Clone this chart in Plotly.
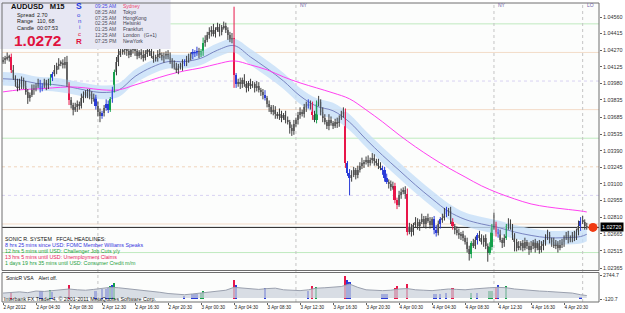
import plotly.graph_objects as go

# ---------------- DATA (prices in pips above 1.02000) ----------------
BASE = 1.02
PIP = 0.0001

first_open = 217
close_pips = [
    218, 220, 221, 221, 210, 203, 199, 194, 197, 201,
    196, 190, 185, 188, 192, 194, 196, 198, 194, 196,
    199, 196, 198, 203, 206, 210, 213, 215, 216, 214,
    217, 197, 183, 179, 175, 177, 180, 178, 185, 188,
    190, 187, 189, 184, 186, 178, 173, 169, 172, 176,
    180, 175, 184, 192, 208, 217, 223, 226, 227, 229,
    226, 223, 227, 230, 226, 222, 225, 223, 220, 224,
    227, 226, 222, 219, 221, 224, 223, 220, 222, 224,
    221, 218, 215, 212, 210, 213, 212, 215, 217, 219,
    220, 223, 225, 224, 226, 223, 226, 233, 236, 240,
    243, 245, 241, 245, 247, 243, 247, 248, 245, 240,
    236, 238, 205, 197, 199, 197, 201, 197, 194, 198,
    196, 197, 194, 196, 192, 190, 188, 185, 180, 177,
    173, 175, 171, 169, 171, 168, 170, 166, 164, 159,
    156, 162, 166, 170, 173, 171, 177, 180, 178, 180,
    170, 166, 180, 182, 173, 168, 164, 161, 166, 163,
    161, 164, 163, 168, 171, 173, 128, 120, 115, 118,
    122, 118, 122, 126, 128, 129, 131, 128, 131, 133,
    130, 128, 126, 124, 122, 115, 112, 110, 107, 108,
    96, 92, 100, 103, 105, 101, 68, 72, 68, 74,
    77, 73, 77, 79, 75, 80, 78, 74, 79, 70,
    67, 75, 79, 80, 84, 87, 86, 77, 73, 70,
    67, 65, 66, 63, 59, 53, 49, 58, 56, 61,
    65, 63, 59, 63, 56, 50, 55, 72, 75, 68,
    66, 61, 58, 63, 73, 75, 72, 65, 59, 54,
    56, 58, 54, 59, 56, 52, 56, 59, 54, 58,
    52, 56, 59, 63, 65, 61, 59, 56, 58, 54,
    57, 59, 63, 65, 61, 63, 65, 63, 68, 73,
    78, 77, 73, 72,
]
wick_up = [
    3, 2, 4, 2, 3, 4, 2, 3, 5, 3, 2, 4, 3, 2, 5, 3, 2, 4, 3, 2,
    3, 2, 4, 3, 2, 4, 3, 5, 2, 3, 4, 5, 2, 3, 2, 4, 3, 2, 4, 3,
    2, 3, 4, 2, 3, 2, 4, 3, 2, 3, 4, 3, 2, 3, 2, 4, 5, 3, 4, 6,
    3, 4, 2, 5, 3, 4, 2, 3, 4, 3, 5, 2, 3, 4, 2, 3, 4, 2, 3, 2,
    3, 4, 2, 3, 4, 2, 3, 4, 2, 3, 4, 2, 3, 2, 4, 3, 2, 5, 4, 3,
    4, 3, 5, 2, 4, 3, 2, 4, 3, 2, 3, 4, 27, 2, 3, 4, 2, 5, 3, 2,
    4, 3, 2, 4, 3, 2, 3, 4, 2, 3, 2, 4, 3, 2, 5, 3, 2, 4, 3, 2,
    3, 4, 2, 3, 4, 2, 3, 2, 4, 3, 2, 4, 3, 5, 2, 4, 3, 2, 5, 3,
    2, 3, 4, 2, 3, 4, 3, 2, 3, 4, 3, 2, 4, 3, 5, 2, 3, 4, 2, 4,
    3, 2, 4, 3, 2, 3, 4, 2, 3, 4, 3, 2, 4, 3, 2, 3, 5, 4, 3, 2,
    4, 3, 2, 5, 3, 2, 4, 3, 2, 3, 4, 3, 2, 4, 5, 3, 2, 4, 3, 2,
    3, 4, 2, 3, 2, 4, 3, 2, 4, 3, 2, 4, 3, 2, 3, 2, 4, 3, 10, 2,
    3, 4, 2, 3, 2, 5, 4, 3, 2, 3, 4, 2, 3, 4, 2, 3, 4, 2, 3, 2,
    3, 4, 2, 3, 5, 3, 2, 4, 3, 2, 4, 3, 2, 3, 4, 2, 3, 4, 3, 5,
    3, 4, 2, 3,
]
wick_dn = [
    2, 3, 2, 4, 3, 2, 4, 3, 2, 4, 3, 2, 5, 3, 2, 4, 3, 2, 4, 3,
    2, 4, 3, 2, 3, 2, 4, 3, 2, 3, 3, 2, 4, 3, 5, 2, 4, 3, 2, 4,
    3, 2, 3, 4, 2, 3, 4, 5, 2, 3, 2, 3, 2, 3, 2, 3, 4, 2, 3, 4,
    4, 3, 2, 3, 4, 3, 2, 4, 3, 2, 3, 4, 2, 3, 2, 4, 3, 2, 4, 3,
    2, 3, 4, 2, 3, 4, 2, 3, 2, 4, 3, 2, 4, 3, 2, 3, 2, 4, 3, 2,
    3, 4, 2, 3, 2, 4, 3, 2, 3, 4, 2, 3, 11, 3, 2, 4, 3, 2, 4, 3,
    3, 2, 4, 3, 2, 3, 4, 2, 3, 4, 2, 3, 4, 2, 3, 4, 2, 3, 2, 5,
    4, 3, 2, 4, 3, 2, 3, 4, 2, 3, 4, 2, 3, 2, 3, 4, 2, 3, 4, 2,
    3, 2, 4, 3, 2, 3, 4, 3, 15, 3, 2, 4, 3, 2, 3, 4, 2, 3, 2, 3,
    4, 2, 3, 2, 4, 3, 2, 4, 3, 2, 3, 4, 2, 3, 2, 4, 3, 2, 4, 3,
    2, 3, 4, 2, 3, 4, 2, 3, 2, 4, 3, 2, 4, 3, 2, 3, 4, 2, 3, 4,
    2, 3, 4, 3, 2, 3, 6, 4, 2, 3, 4, 3, 2, 4, 3, 8, 2, 3, 2, 4,
    3, 2, 4, 3, 2, 3, 2, 4, 8, 3, 2, 4, 3, 2, 3, 4, 2, 3, 4, 2,
    3, 2, 4, 3, 2, 3, 4, 2, 3, 4, 2, 3, 4, 2, 3, 2, 4, 3, 2, 3,
    4, 2, 3, 2,
]

# VSA highlighted bars (index, volume, colour code)
spike_idx = [4, 18, 19, 23, 24, 32, 45, 48, 50, 51, 52, 53, 54, 88, 92, 93, 94, 96, 97,
             112, 113, 127, 148, 150, 152, 166, 167, 168, 184, 185, 186, 190, 191, 196,
             209, 210, 212, 215, 218, 227, 230, 236, 237, 239, 240, 244, 280]
spike_val = [835, 900, 955, 990, 800, 1590, 955, 1100, 1190, 1300, 1500, 1700, 1910, 320, 515, 500, 515, 700, 920,
             2300, 1590, 1310, 900, 1510, 1430, 2744.7, 2300, 2000, 515, 600, 550, 1300, 1510, 1830,
             515, 600, 515, 700, 1310, 715, 715, 900, 955, 1310, 1700, 1510, 200]
spike_col = ['r', 'b', 'b', 'g', 'b', 'r', 'b', 'b', 'b', 'b', 'g', 'b', 'g', 'b', 'b', 'b', 'b', 'g', 'g',
             'r', 'b', 'b', 'b', 'r', 'g', 'r', 'b', 'b', 'b', 'b', 'b', 'r', 'r', 'r',
             'b', 'b', 'b', 'b', 'r', 'g', 'b', 'g', 'g', 'r', 'b', 'g', 'b']

# volume envelope (sampled every 4 bars)
vol_idx = list(range(0, 284, 4)) + [283]
vol_val = [600, 700, 750, 650, 850, 800, 900, 950, 1100, 1000,
           950, 1050, 1150, 1300, 1250, 1150, 1050, 950, 850, 700,
           550, 450, 400, 500, 600, 750, 850, 950, 1300, 1200,
           1100, 1050, 1150, 1200, 1000, 950, 900, 1000, 1200, 1250,
           1300, 1400, 1700, 1300, 1000, 950, 900, 950, 1100, 1150,
           1000, 950, 900, 1000, 1100, 1050, 1000, 1100, 1200, 1250,
           1300, 1250, 1100, 1000, 900, 850, 800, 750, 700, 600,
           400, 300]

# moving averages (sampled every 8 bars)
ema_idx = list(range(0, 284, 8)) + [283]
ema34_mid = [202, 201, 198, 197, 195, 192, 190, 192, 204, 212, 217, 217, 220, 227, 231, 221, 211, 200, 187,
             178, 174, 164, 149, 135, 122, 109, 97, 86, 79, 75, 72, 68, 65, 63, 63, 64, 66]
ema34_hi = [208, 207, 204, 203, 201, 198, 196, 198, 210, 218, 223, 223, 226, 233, 237, 228, 218, 207, 194,
            185, 181, 171, 156, 142, 129, 116, 104, 93, 85, 81, 78, 74, 71, 69, 69, 70, 72]
ema34_lo = [196, 195, 192, 191, 189, 186, 184, 186, 198, 206, 211, 211, 214, 221, 225, 214, 204, 193, 180,
            171, 167, 157, 142, 128, 115, 102, 90, 79, 73, 69, 66, 62, 59, 57, 57, 58, 60]
ema89 = [190.5, 192.3, 193.1, 194, 194.9, 194, 192.3, 192.3, 196.6, 201, 205.4, 208.9, 211.5, 215, 217.6,
         214.1, 209.8, 203.6, 198.4, 194, 189.6, 184.4, 174.8, 164.3, 152.9, 142.4, 132.8, 124, 116.1,
         108.3, 102.1, 96.9, 92.5, 89.9, 88.1, 86.4, 85.5]

price_ticks = [1.04560, 1.04415, 1.04270, 1.04125, 1.03980, 1.03835, 1.03685, 1.03535,
               1.03390, 1.03245, 1.03100, 1.02955, 1.02810, 1.02665, 1.02515, 1.02365]
x_tick_idx = [0, 16, 32, 48, 64, 80, 96, 112, 128, 144, 160, 176, 192, 208, 224, 240, 256, 272]
x_tick_text = ["2 Apr 2012", "2 Apr 04:30", "2 Apr 08:30", "2 Apr 12:30", "2 Apr 16:30", "2 Apr 20:30",
               "3 Apr 00:30", "3 Apr 04:30", "3 Apr 08:30", "3 Apr 12:30", "3 Apr 16:30", "3 Apr 20:30",
               "4 Apr 00:30", "4 Apr 04:30", "4 Apr 08:30", "4 Apr 12:30", "4 Apr 16:30", "4 Apr 20:30"]
vol_ticks = [2744.7, -120.7]

round_levels = [1.0450, 1.0425, 1.0400, 1.0375, 1.0350, 1.0325, 1.0300, 1.0275, 1.0250]
level_kind = ['g', 'p', 'l', 'p', 'g', 'pd', 'l', 'p', 'g']
session_idx = [46, 142, 238, 281]
session_lbl = ['NY', 'NY', 'NY', 'LO']

headlines = ["SONIC R. SYSTEM   FFCAL HEADLINES:",
             "8 hrs 25 mins since USD: FOMC Member Williams Speaks",
             "12 hrs 5 mins until USD: Challenger Job Cuts y/y",
             "13 hrs 5 mins until USD: Unemployment Claims",
             "1 days 19 hrs 35 mins until USD: Consumer Credit m/m"]
clock_times = ["09:25 AM", "08:25 AM", "07:25 AM", "02:25 AM", "01:25 AM", "12:25 AM", "07:25 PM"]
clock_cities = ["Sydney", "Tokyo", "HongKong", "Helsinki", "Frankfurt", "London   (G+1)", "NewYork"]

# ---------------- BUILD ----------------
def P(v):
    return BASE + v * PIP

n = len(close_pips)
opens = [first_open] + close_pips[:-1]
highs = [max(o, c) + u for o, c, u in zip(opens, close_pips, wick_up)]
lows = [min(o, c) - d for o, c, d in zip(opens, close_pips, wick_dn)]
last = P(close_pips[-1])

FONT = "Liberation Sans, Arial, sans-serif"
COL = {'r': '#e8174a', 'b': '#2a3cd8', 'g': '#16a04c'}
colour_of = dict(zip(spike_idx, spike_col))

fig = go.Figure()

# EMA band + lines
fig.add_trace(go.Scatter(x=ema_idx, y=[P(v) for v in ema34_lo], mode='lines',
                         line=dict(width=0, shape='spline'), hoverinfo='skip'))
fig.add_trace(go.Scatter(x=ema_idx, y=[P(v) for v in ema34_hi], mode='lines',
                         line=dict(width=0, shape='spline'), fill='tonexty',
                         fillcolor='rgba(198,222,248,0.8)', hoverinfo='skip'))
fig.add_trace(go.Scatter(x=ema_idx, y=[P(v) for v in ema34_mid], mode='lines',
                         line=dict(color='#7884c0', width=1, shape='spline')))
fig.add_trace(go.Scatter(x=ema_idx, y=[P(v) for v in ema89], mode='lines',
                         line=dict(color='#ff40f0', width=1, shape='spline')))

# price bars
groups = {'n': [], 'r': [], 'b': [], 'g': []}
for i in range(n):
    groups[colour_of.get(i, 'n')].append(i)

wick_c = {'n': '#3c3c3c', 'r': COL['r'], 'b': COL['b'], 'g': COL['g']}
body_c = {'n': '#8e8e8e', 'r': COL['r'], 'b': COL['b'], 'g': COL['g']}
body_w = {'n': 0.62, 'r': 0.95, 'b': 0.85, 'g': 0.95}
for key in ['n', 'r', 'b', 'g']:
    idx = groups[key]
    wx, wy = [], []
    for i in idx:
        wx += [i, i, None]
        wy += [P(lows[i]), P(highs[i]), None]
    fig.add_trace(go.Scatter(x=wx, y=wy, mode='lines', line=dict(color=wick_c[key], width=1),
                             hoverinfo='skip'))
    fig.add_trace(go.Bar(x=idx,
                         base=[P(min(opens[i], close_pips[i])) for i in idx],
                         y=[max(abs(close_pips[i] - opens[i]), 0.7) * PIP for i in idx],
                         width=body_w[key], marker=dict(color=body_c[key], line=dict(width=0))))

# current price marker
fig.add_trace(go.Scatter(x=[n + 2], y=[last], mode='markers', cliponaxis=False,
                         marker=dict(size=9, color='#f03a12', line=dict(width=0))))

# volume window
fig.add_trace(go.Scatter(x=vol_idx, y=vol_val, yaxis='y2', mode='lines', fill='tozeroy',
                         fillcolor='rgba(204,209,220,0.75)', line=dict(color='#9aa0ae', width=1)))
fig.add_trace(go.Bar(x=spike_idx, y=spike_val, base=0, yaxis='y2', width=0.9,
                     marker=dict(color=[COL[c] for c in spike_col], line=dict(width=0))))

# ---------------- LAYOUT ----------------
W, H = 625, 313
ML, MR, MT, MB = 2, 21, 3, 11
PW, PH = W - ML - MR, H - MT - MB
main_bot = (302 - 270.5) / PH
sub_top = (302 - 272.5) / PH


def px(x):
    return (x - ML) / PW


def py(y):
    return (H - MB - y) / PH


shapes = []
lvl_style = {'g': ('#bfeabf', 'solid'), 'p': ('#f3dcc8', 'solid'),
             'pd': ('#f0d4bc', 'dot'), 'l': ('#d8d2f2', 'dot')}
for lv, k in zip(round_levels, level_kind):
    c, d = lvl_style[k]
    shapes.append(dict(type='line', xref='paper', yref='y', x0=0, x1=1, y0=lv, y1=lv,
                       line=dict(color=c, width=1, dash=d), layer='below'))
for si in session_idx:
    shapes.append(dict(type='line', xref='x', yref='paper', x0=si, x1=si, y0=0, y1=1,
                       line=dict(color='#c4c4c4', width=1, dash='dot'), layer='below'))
shapes.append(dict(type='line', xref='paper', yref='y', x0=0, x1=1, y0=last, y1=last,
                   line=dict(color='#202020', width=1), layer='below'))
# info panel
shapes.append(dict(type='rect', xref='paper', yref='paper', x0=px(0), x1=px(172), y0=py(49), y1=py(0),
                   fillcolor='#e7e7f3', line=dict(width=0), layer='above'))
# window frames
shapes.append(dict(type='rect', xref='paper', yref='paper', x0=0, x1=1, y0=main_bot, y1=1,
                   line=dict(color='#6e6e6e', width=1)))
shapes.append(dict(type='rect', xref='paper', yref='paper', x0=0, x1=1, y0=0, y1=sub_top,
                   line=dict(color='#6e6e6e', width=1)))

ann = []


def A(text, x, y, size, color='#101010', anchor='left', bg=None):
    d = dict(text=text, xref='paper', yref='paper', x=px(x), y=py(y), xanchor=anchor,
             yanchor='middle', showarrow=False, font=dict(family=FONT, size=size, color=color),
             borderpad=0)
    if bg:
        d['bgcolor'] = bg
    ann.append(d)


# info panel texts
A("<b>AUDUSD   M15</b>", 10, 6.5, 7.6, '#101010')
A("Spread", 16, 15, 5.4, '#202020'); A("2.70", 36, 15, 5.4, '#202020')
A("Range", 16, 21.5, 5.4, '#202020'); A("110, 68", 36, 21.5, 5.4, '#202020')
A("Candle", 16, 28, 5.4, '#202020'); A("00:07:53", 36, 28, 5.4, '#202020')
A("<b>1.0272</b>", 13, 40, 15.5, '#e0123e')
for ch, yy, sz, cc in [("<b>S</b>", 6.5, 8.5, '#1e38dc'), ("o", 15, 6, '#2a40e0'), ("n", 21, 6, '#2a40e0'),
                       ("i", 27.5, 6, '#2a40e0'), ("c", 33.5, 6, '#e0123e'), ("<b>R</b>", 41.5, 8, '#e0123e')]:
    A(ch, 80, yy, sz, cc, anchor='center')
for k, (t, c) in enumerate(zip(clock_times, clock_cities)):
    yy = 6 + k * 5.8
    A(t, 95, yy, 5, '#4848e0' if k == 0 else '#505060')
    A(c, 123, yy, 5, '#f03c6c' if k == 0 else '#404050')

# headlines
hl_col = ['#101010', '#3434e0', '#1ea040', '#e8205a', '#1ea040']
for k, (t, c) in enumerate(zip(headlines, hl_col)):
    A(t, 4, 239 + k * 6.1, 5.3, c)

# sub window texts
A("SonicR VSA    Alert off.", 5, 277.5, 5, '#101010')
A("Interbank FX Trader 4, \u00a9 2001-2011 MetaQuotes Software Corp.", 3, 298.5, 5.3, '#202020')

# session labels (first one is under the info panel)
for si, lb in zip(session_idx[1:], session_lbl[1:]):
    ann.append(dict(text=lb, xref='x', yref='paper', x=si + 1, y=py(5), xanchor='left', yanchor='middle',
                    showarrow=False, font=dict(family=FONT, size=5, color='#7060a8')))

# current price tag
ann.append(dict(text=f"{last:.5f}", xref='paper', yref='y', x=1.0 + 1.5 / PW, y=last, xanchor='left',
                yanchor='middle', showarrow=False, bgcolor='#000000', borderpad=1,
                font=dict(family=FONT, size=5.4, color='#ffffff')))

y_top = 1.04560 + (17 - MT) / 11435
y_bot = y_top - (270.5 - MT) / 11435
v_per_px = (2744.7 + 120.7) / 23.5

fig.update_layout(
    width=W, height=H, margin=dict(l=ML, r=MR, t=MT, b=MB),
    paper_bgcolor='#ffffff', plot_bgcolor='#fcfdfc', showlegend=False,
    barmode='overlay', bargap=0,
    shapes=shapes, annotations=ann,
    xaxis=dict(domain=[0, 1], range=[-0.5, -0.5 + PW / 2.08], anchor='y2',
               tickmode='array', tickvals=x_tick_idx, ticktext=x_tick_text,
               ticks='outside', ticklen=2, tickcolor='#606060', ticklabelposition='outside right',
               tickfont=dict(family=FONT, size=4.6, color='#202020'),
               showgrid=False, zeroline=False, showline=False),
    yaxis=dict(domain=[main_bot, 1], range=[y_bot, y_top], side='right', anchor='x',
               tickmode='array', tickvals=price_ticks, ticktext=[f"{v:.5f}" for v in price_ticks],
               ticks='outside', ticklen=2, tickcolor='#606060',
               tickfont=dict(family=FONT, size=5.4, color='#303030'),
               showgrid=False, zeroline=False, showline=False),
    yaxis2=dict(domain=[0, sub_top], range=[-120.7 - 3 * v_per_px, 2744.7 + 3 * v_per_px],
                side='right', anchor='x', tickmode='array', tickvals=vol_ticks,
                ticktext=[str(v) for v in vol_ticks], ticks='outside', ticklen=2, tickcolor='#606060',
                tickfont=dict(family=FONT, size=5.2, color='#303030'),
                showgrid=False, zeroline=False, showline=False),
)

fig.write_html("out.html")
